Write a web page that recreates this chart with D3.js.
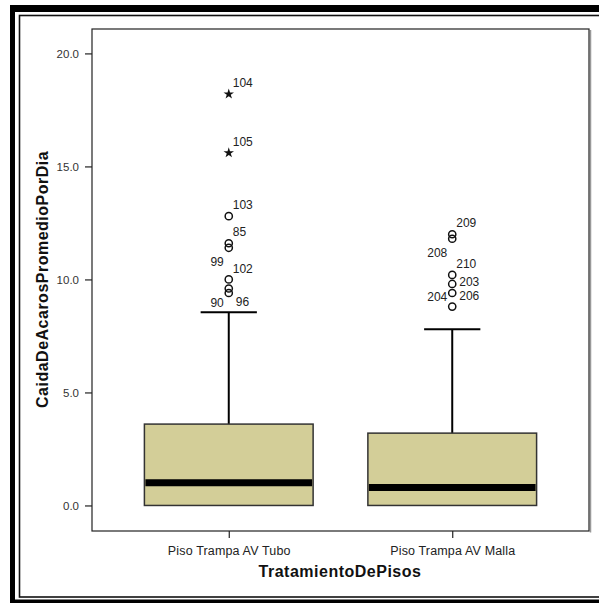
<!DOCTYPE html>
<html>
<head>
<meta charset="utf-8">
<script src="https://cdn.jsdelivr.net/npm/d3@7"></script>
<style>
  html, body { margin: 0; padding: 0; background: #fff; overflow: hidden; }
  svg { display: block; }
</style>
</head>
<body>
<svg width="599" height="603"></svg>
<script>
const categories = ["Piso Trampa AV Tubo", "Piso Trampa AV Malla"];
const q1 = [0, 0];
const medians = [1.0, 0.8];
const q3 = [3.6, 3.2];
const whiskerLow = [0, 0];
const whiskerHigh = [8.55, 7.8];

const outlierIds = [
  [104, 105, 103, 85, 99, 102, 90, 96],
  [209, 208, 210, 203, 206, 204],
];
const outlierValues = [
  [18.2, 15.6, 12.8, 11.6, 11.4, 10.0, 9.6, 9.4],
  [12.0, 11.8, 10.2, 9.8, 9.4, 8.8],
];
// where SPSS put each case label relative to its point
const labelSides = [
  ["ne", "ne", "ne", "ne", "sw", "ne", "sw", "se"],
  ["ne", "sw", "ne", "e", "es", "nw"],
];

const yTicks = [0, 5, 10, 15, 20];
const yTitle = "CaidaDeAcarosPromedioPorDia";
const xTitle = "TratamientoDePisos";

const svg = d3.select("svg");

// outer double frame
svg.append("rect").attr("x", 10).attr("y", 5).attr("width", 620).attr("height", 620).attr("fill", "#000");
svg.append("rect").attr("x", 15).attr("y", 12).attr("width", 610).attr("height", 587.5).attr("fill", "#fff");
svg.append("rect")
  .attr("x", 19.5).attr("y", 15.5)
  .attr("width", 600).attr("height", 581.5)
  .attr("fill", "none").attr("stroke", "#111").attr("stroke-width", 1.6);

const plot = { left: 92, right: 589, top: 29, bottom: 531 };

const x = d3.scalePoint()
  .domain(categories)
  .range([plot.left, plot.right])
  .padding(0.612);
const boxW = x.step() * 0.755;

const y = d3.scaleLinear()
  .domain([-1.13, 21.08])
  .range([plot.bottom, plot.top]);

const font = "'Liberation Sans', Arial, sans-serif";

// plot frame with a soft shadow right / bottom
svg.append("line")
  .attr("x1", plot.right + 1.5).attr("x2", plot.right + 1.5)
  .attr("y1", plot.top + 1).attr("y2", plot.bottom + 1.5)
  .attr("stroke", "#999").attr("stroke-width", 1.5);
svg.append("rect")
  .attr("x", plot.left).attr("y", plot.top)
  .attr("width", plot.right - plot.left).attr("height", plot.bottom - plot.top)
  .attr("fill", "none").attr("stroke", "#222").attr("stroke-width", 1.2);

// y axis
const yAxis = svg.append("g")
  .attr("transform", `translate(${plot.left},0)`)
  .call(d3.axisLeft(y).tickValues(yTicks).tickFormat(d3.format(".1f")).tickSize(7).tickPadding(6));
yAxis.select(".domain").remove();
yAxis.selectAll(".tick line").attr("stroke", "#222").attr("stroke-width", 1.2);
yAxis.selectAll(".tick text")
  .attr("font-family", font).attr("font-size", 11.5).attr("fill", "#333");

// x axis
const xAxis = svg.append("g")
  .attr("transform", `translate(0,${plot.bottom})`)
  .call(d3.axisBottom(x).tickSize(7).tickPadding(6));
xAxis.select(".domain").remove();
xAxis.selectAll(".tick line").attr("stroke", "#222").attr("stroke-width", 1.2);
xAxis.selectAll(".tick text")
  .attr("font-family", font).attr("font-size", 12.5).attr("fill", "#222")
  .attr("letter-spacing", 0.15)
  .attr("dy", "0.85em");

// axis titles
svg.append("text")
  .attr("x", (plot.left + plot.right) / 2 - 0.5)
  .attr("y", 577)
  .attr("text-anchor", "middle")
  .attr("font-family", font).attr("font-weight", "bold").attr("font-size", 16)
  .attr("letter-spacing", 0.5)
  .attr("fill", "#111")
  .text(xTitle);

svg.append("text")
  .attr("transform", `translate(48,${y(10)}) rotate(-90)`)
  .attr("text-anchor", "middle")
  .attr("font-family", font).attr("font-weight", "bold").attr("font-size", 16)
  .attr("letter-spacing", 0.5)
  .attr("fill", "#111")
  .text(yTitle);

// boxes
const stats = categories.map((c, i) => ({
  cat: c,
  q1: q1[i], med: medians[i], q3: q3[i],
  lo: whiskerLow[i], hi: whiskerHigh[i],
}));

const box = svg.append("g").selectAll("g").data(stats).join("g");

box.append("line")
  .attr("x1", (d) => x(d.cat)).attr("x2", (d) => x(d.cat))
  .attr("y1", (d) => y(d.q3)).attr("y2", (d) => y(d.hi))
  .attr("stroke", "#000").attr("stroke-width", 2);
box.append("line")
  .attr("x1", (d) => x(d.cat) - boxW / 6).attr("x2", (d) => x(d.cat) + boxW / 6)
  .attr("y1", (d) => y(d.hi)).attr("y2", (d) => y(d.hi))
  .attr("stroke", "#000").attr("stroke-width", 2);

box.append("rect")
  .attr("x", (d) => x(d.cat) - boxW / 2)
  .attr("y", (d) => y(d.q3))
  .attr("width", boxW)
  .attr("height", (d) => y(d.q1) - y(d.q3))
  .attr("fill", "#d3ce98")
  .attr("stroke", "#333").attr("stroke-width", 1.5);

box.append("line")
  .attr("x1", (d) => x(d.cat) - boxW / 2 + 1).attr("x2", (d) => x(d.cat) + boxW / 2 - 1)
  .attr("y1", (d) => y(d.med)).attr("y2", (d) => y(d.med))
  .attr("stroke", "#000").attr("stroke-width", 7);

// outliers: star beyond 3 IQR, circle otherwise
const outliers = [];
categories.forEach((c, i) => {
  const iqr = q3[i] - q1[i];
  outlierValues[i].forEach((v, j) => {
    outliers.push({
      cat: c, v, id: outlierIds[i][j], side: labelSides[i][j],
      extreme: v > q3[i] + 3 * iqr,
    });
  });
});

const og = svg.append("g");
og.selectAll("circle")
  .data(outliers.filter((d) => !d.extreme))
  .join("circle")
  .attr("cx", (d) => x(d.cat)).attr("cy", (d) => y(d.v))
  .attr("r", 3.6)
  .attr("fill", "none").attr("stroke", "#111").attr("stroke-width", 1.5);

og.selectAll("path")
  .data(outliers.filter((d) => d.extreme))
  .join("path")
  .attr("transform", (d) => `translate(${x(d.cat)},${y(d.v)})`)
  .attr("d", d3.symbol(d3.symbolStar, 34))
  .attr("fill", "#111");

const offsets = {
  ne: { dx: 4, dy: -11, anchor: "start" },
  e: { dx: 7, dy: -2.5, anchor: "start" },
  es: { dx: 7, dy: 2.5, anchor: "start" },
  se: { dx: 7, dy: 9, anchor: "start" },
  sw: { dx: -5, dy: 14, anchor: "end" },
  nw: { dx: -5, dy: -10, anchor: "end" },
};

og.selectAll("text")
  .data(outliers)
  .join("text")
  .attr("x", (d) => x(d.cat) + offsets[d.side].dx)
  .attr("y", (d) => y(d.v) + offsets[d.side].dy)
  .attr("dy", "0.35em")
  .attr("text-anchor", (d) => offsets[d.side].anchor)
  .attr("font-family", font).attr("font-size", 12)
  .attr("fill", "#222")
  .text((d) => d.id);
</script>
</body>
</html>
